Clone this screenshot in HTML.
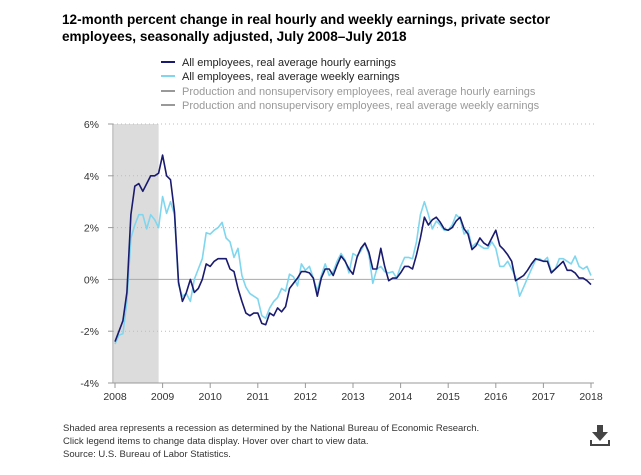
<!DOCTYPE html>
<html><head><meta charset="utf-8"><style>
body{margin:0;background:#fff;width:641px;height:470px;overflow:hidden;font-family:"Liberation Sans",sans-serif}
</style></head><body>
<svg id="chart" width="641" height="470" xmlns="http://www.w3.org/2000/svg" font-family="Liberation Sans, sans-serif">
<text x="62" y="24" font-size="13.6" font-weight="bold" fill="#000">12-month percent change in real hourly and weekly earnings, private sector</text>
<text x="62" y="41" font-size="13.6" font-weight="bold" fill="#000">employees, seasonally adjusted, July 2008–July 2018</text>
<g font-size="11">
<g><line x1="161" y1="62" x2="175" y2="62" stroke="#1a1a6e" stroke-width="2"/><text x="182" y="66" fill="#222">All employees, real average hourly earnings</text></g>
<g><line x1="161" y1="76" x2="175" y2="76" stroke="#7fd6ee" stroke-width="2"/><text x="182" y="80" fill="#222">All employees, real average weekly earnings</text></g>
<g><line x1="161" y1="91" x2="175" y2="91" stroke="#999" stroke-width="2"/><text x="182" y="95" fill="#999">Production and nonsupervisory employees, real average hourly earnings</text></g>
<g><line x1="161" y1="105" x2="175" y2="105" stroke="#999" stroke-width="2"/><text x="182" y="109" fill="#999">Production and nonsupervisory employees, real average weekly earnings</text></g>
</g>
<g id="plot"></g>
<g font-size="9.5" fill="#333">
<text x="63" y="431">Shaded area represents a recession as determined by the National Bureau of Economic Research.</text>
<text x="63" y="444">Click legend items to change data display. Hover over chart to view data.</text>
<text x="63" y="457">Source: U.S. Bureau of Labor Statistics.</text>
</g>
<g fill="#444">
<rect x="597" y="425" width="6" height="8"/><polygon points="592,432 608,432 600,441"/><path d="M591 440 v5 h18 v-5" fill="none" stroke="#444" stroke-width="2"/>
</g>
</svg>
<script>
const yTicks=[6,4,2,0,-2,-4];
const yearLabels=["2008","2009","2010","2011","2012","2013","2014","2015","2016","2017","2018"];
const recessionStart=0, recessionEnd=11;
const hourly=[-2.4,-2.0,-1.6,-0.5,2.5,3.6,3.7,3.4,3.7,4.0,4.0,4.1,4.8,4.0,3.85,2.6,-0.1,-0.85,-0.5,0,-0.5,-0.35,0,0.6,0.5,0.7,0.8,0.8,0.8,0.4,0.3,-0.35,-0.85,-1.3,-1.4,-1.3,-1.3,-1.7,-1.75,-1.3,-1.4,-1.1,-1.25,-1.05,-0.35,-0.15,0.05,0.3,0.3,0.25,0.05,-0.65,0.05,0.4,0.4,0.15,0.55,0.9,0.7,0.4,0.2,0.85,1.2,1.4,1.05,0.4,0.4,1.2,0.5,-0.05,0.05,0.05,0.25,0.5,0.5,0.4,0.95,1.6,2.4,2.1,2.3,2.4,2.2,1.95,1.9,2.0,2.25,2.4,1.95,1.75,1.15,1.3,1.6,1.4,1.3,1.6,1.9,1.3,1.15,0.95,0.7,-0.05,0.05,0.15,0.35,0.6,0.8,0.75,0.7,0.7,0.25,0.4,0.55,0.7,0.35,0.35,0.25,0.05,0.05,-0.05,-0.2];
const weekly=[-2.5,-2.15,-2.1,-0.85,1.6,2.1,2.5,2.5,1.95,2.5,2.3,2.0,3.2,2.55,3.0,2.5,-0.2,-0.65,-0.55,-0.85,0,0.4,0.8,1.8,1.75,1.9,2.0,2.2,1.6,1.45,0.85,1.2,0.15,-0.3,-0.55,-0.65,-0.75,-1.4,-1.5,-1.1,-0.85,-0.7,-0.35,-0.45,0.2,0.1,-0.25,0.6,0.35,0.5,0.05,-0.45,0.15,0.6,0.15,0.3,0.7,1.0,0.75,0.25,1.0,0.9,1.1,1.4,0.95,-0.15,0.4,0.5,0.3,0.25,0.3,0.05,0.5,0.85,0.85,0.8,1.45,2.5,3.0,2.5,1.95,2.25,2.1,1.9,1.9,2.1,2.5,2.35,1.75,1.9,1.25,1.4,1.3,1.2,1.2,1.45,1.2,0.5,0.5,0.7,0.4,0.1,-0.65,-0.3,0.05,0.4,0.75,0.8,0.7,0.85,0.3,0.4,0.8,0.8,0.7,0.6,0.9,0.5,0.4,0.5,0.15];
const NS="http://www.w3.org/2000/svg";
const L=113,R=594,T=124,B=383,X0=115,X1=591;
const x=i=>X0+(X1-X0)*i/120;
const y=v=>T+(6-v)*(B-T)/10;
const g=document.getElementById('plot');
function mk(tag,attrs){const e=document.createElementNS(NS,tag);for(const k in attrs)e.setAttribute(k,attrs[k]);g.appendChild(e);return e;}
let e=mk('rect',{x:x(recessionStart)-1,y:T,width:x(recessionEnd)-x(recessionStart)+1,height:B-T,fill:'#dcdcdc'});


yTicks.forEach(t=>{
  if(t!==-4&&t!==0){const l=mk('line',{x1:L,x2:R,y1:y(t),y2:y(t),stroke:'#bbb','stroke-dasharray':'1,3'});
  
  }
  const tk=mk('line',{x1:L-5,x2:L,y1:y(t),y2:y(t),stroke:'#999'});
  
  
  const tx=mk('text',{x:L-14,y:y(t)+4,'text-anchor':'end','font-size':'10.5',fill:'#333'});
  tx.textContent=t+'%';
  
  
});
e=mk('line',{x1:L,x2:R,y1:y(0),y2:y(0),stroke:'#aaa'});


e=mk('line',{x1:L,x2:L,y1:T,y2:B,stroke:'#999'});


e=mk('line',{x1:L,x2:R,y1:B,y2:B,stroke:'#999'});


yearLabels.forEach((lab,i)=>{
  const xx=x(i*12);
  const tk=mk('line',{x1:xx,x2:xx,y1:B,y2:B+5,stroke:'#999'});
  
  
  const tx=mk('text',{x:xx,y:B+17,'text-anchor':'middle','font-size':'10.5',fill:'#333'});
  tx.textContent=lab;
  
  
});
function line(data,color,name){
  const p=mk('polyline',{points:data.map((v,i)=>x(i).toFixed(1)+','+y(v).toFixed(1)).join(' '),fill:'none',stroke:color,'stroke-width':'1.6','stroke-linejoin':'round'});
  
  
}
line(weekly,'#7fd6ee','weekly-earnings-line');
line(hourly,'#1a1a6e','hourly-earnings-line');
</script>
</body></html>
